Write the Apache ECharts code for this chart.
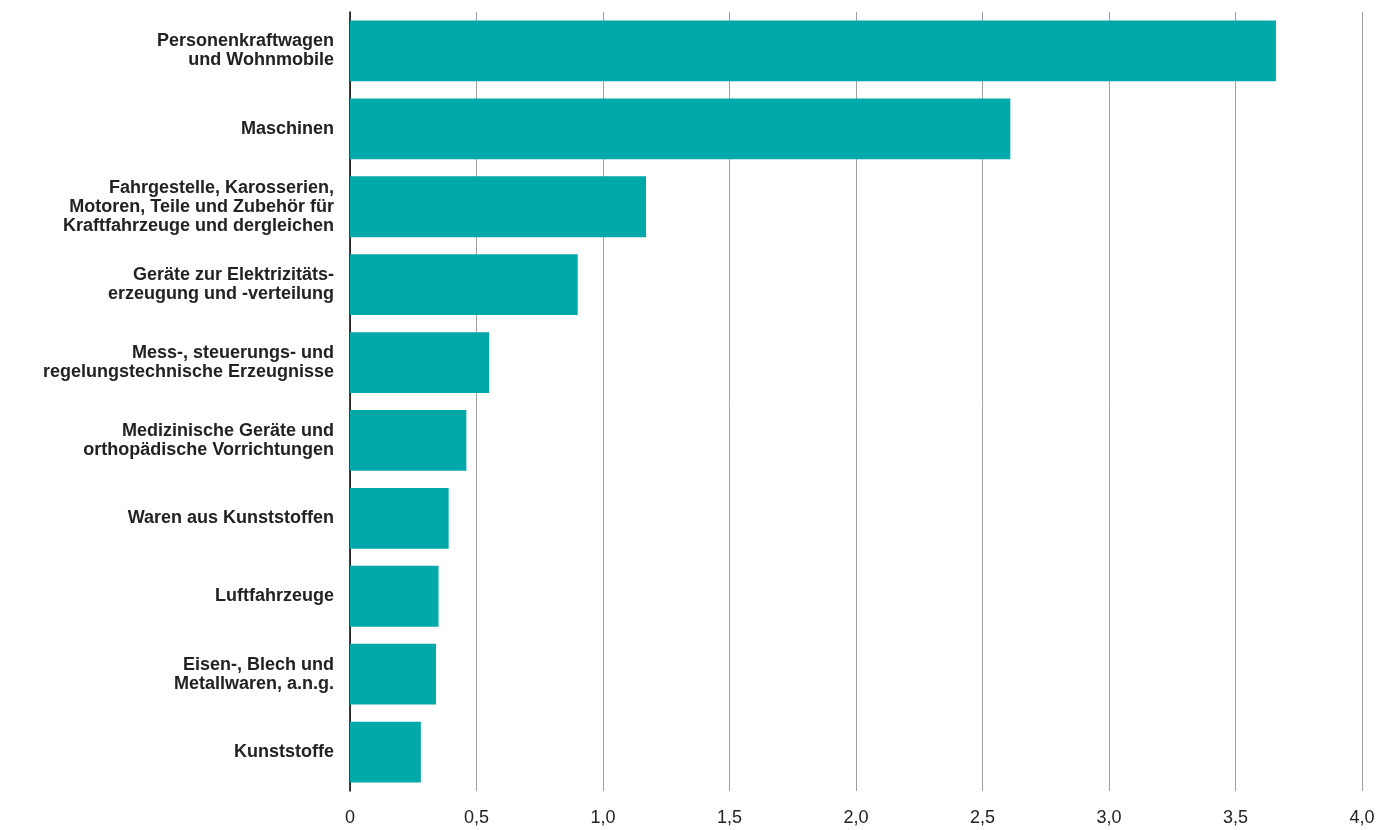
<!DOCTYPE html>
<html><head><meta charset="utf-8">
<script src="https://cdn.jsdelivr.net/npm/echarts@6/dist/echarts.min.js"></script>
<style>html,body{margin:0;padding:0;background:#fff}#c{width:1381px;height:830px}</style>
</head><body><div id="c"></div>
<script>
var categories = [
	'Personenkraftwagen\nund Wohnmobile',
	'Maschinen',
	'Fahrgestelle, Karosserien,\nMotoren, Teile und Zubehör für\nKraftfahrzeuge und dergleichen',
	'Geräte zur Elektrizitäts-\nerzeugung und -verteilung',
	'Mess-, steuerungs- und\nregelungstechnische Erzeugnisse',
	'Medizinische Geräte und\northopädische Vorrichtungen',
	'Waren aus Kunststoffen',
	'Luftfahrzeuge',
	'Eisen-, Blech und\nMetallwaren, a.n.g.',
	'Kunststoffe'
];
var values = [3.66, 2.61, 1.17, 0.90, 0.55, 0.46, 0.39, 0.35, 0.34, 0.28];

var myChart = echarts.init(document.getElementById('c'));
var option = {
	animation: false,
	grid: { left: 350, right: 19, top: 12, bottom: 39, containLabel: false },
	xAxis: {
		type: 'value', min: 0, max: 4, interval: 0.5,
		axisLine: { show: false },
		axisTick: { show: false },
		splitLine: { lineStyle: { color: '#a0a0a0', width: 1 } },
		axisLabel: {
			fontSize: 18, color: '#222', fontFamily: 'Liberation Sans', margin: 18,
			formatter: function (v) { return v === 0 ? '0' : v.toFixed(1).replace('.', ','); }
		}
	},
	yAxis: {
		type: 'category', inverse: true, data: categories,
		axisLine: { lineStyle: { color: '#000', width: 1.5 } },
		axisTick: { show: false },
		axisLabel: {
			fontSize: 18, fontWeight: 'bold', color: '#222', fontFamily: 'Liberation Sans',
			lineHeight: 19, align: 'right', margin: 16
		}
	},
	series: [{
		type: 'bar', data: values, barCategoryGap: '22%',
		itemStyle: { color: '#00a9a9' }
	}]
};
myChart.setOption(option);
</script></body></html>
